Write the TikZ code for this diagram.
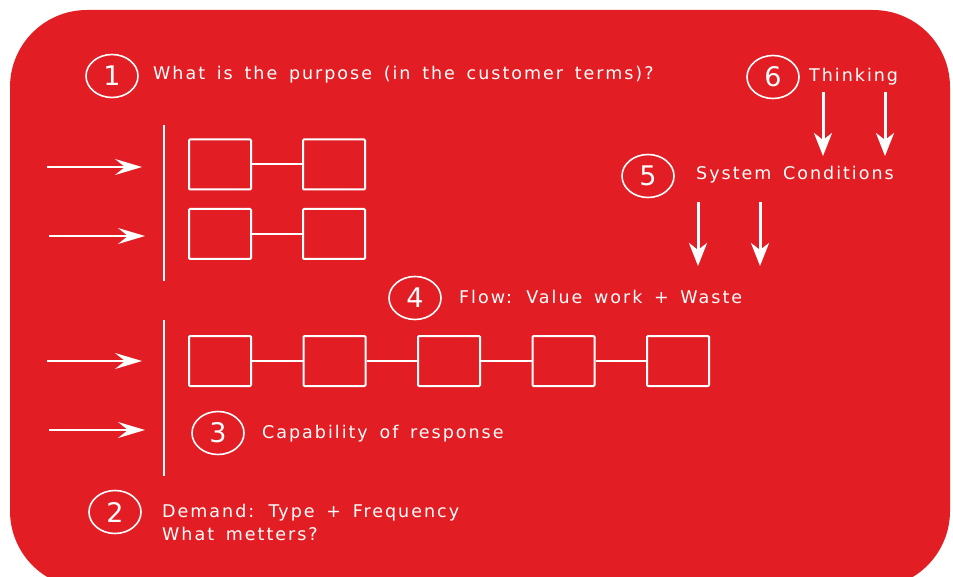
\documentclass[tikz,border=0pt]{standalone}
\usepackage{fontspec}
\setmainfont{DejaVu Sans}
\newfontfamily\lblfont[LetterSpace=11.4,WordSpace=1.55]{DejaVu Sans}
\usetikzlibrary{arrows.meta,shapes.geometric}
\definecolor{bgred}{RGB}{226,30,36}
\begin{document}
\begin{tikzpicture}[x=1pt,y=-1pt,
  proc/.style={draw=white,line width=2pt,minimum width=62pt,minimum height=50pt,inner sep=0pt,rounded corners=1pt},
  num/.style={draw=white,line width=1.6pt,ellipse,minimum width=52pt,minimum height=43pt,inner sep=0pt,text=white,font=\fontsize{27}{27}\selectfont},
  lbl/.style={text=white,anchor=base west,inner sep=0pt,align=left,font=\lblfont\fontsize{17.5}{23}\selectfont},
  link/.style={draw=white,line width=2pt},
  inarrow/.style={white,line width=2.2pt,-{Stealth[length=27pt,width=16pt,inset=10pt]}},
  downarrow/.style={white,line width=3pt,-{Stealth[length=23pt,width=18pt,inset=7pt]}},
  bar/.style={white,line width=2.5pt}]
\useasboundingbox (0,0) rectangle (953,577);
\fill[bgred,rounded corners=77pt] (10,10) rectangle (950,588);

% item 1
\node[num] (n1) at (112,76) {1};
\node[lbl] (t1) at (153,80) {What is the purpose (in the customer terms)?};

% item 6
\node[num] (n6) at (773,77) {6};
\node[lbl] (t6) at (809,82) {Thinking};
\coordinate (a6s) at (823,92);  \coordinate (a6e) at (823,156);
\coordinate (b6s) at (885,92);  \coordinate (b6e) at (885,156);
\draw[downarrow] (a6s) -- (a6e);
\draw[downarrow] (b6s) -- (b6e);

% item 5
\node[num] (n5) at (648,176) {5};
\node[lbl] (t5) at (696,180) {System Conditions};
\coordinate (a5s) at (698,202); \coordinate (a5e) at (698,266);
\coordinate (b5s) at (760,202); \coordinate (b5e) at (760,266);
\draw[downarrow] (a5s) -- (a5e);
\draw[downarrow] (b5s) -- (b5e);

% item 4
\node[num] (n4) at (415,298) {4};
\node[lbl] (t4) at (459,304) {Flow: Value work + Waste};

% upper block
\coordinate (v1t) at (164,125); \coordinate (v1b) at (164,281);
\draw[bar] (v1t) -- (v1b);
\coordinate (i1s) at (47,167);  \coordinate (i1e) at (142,167);
\coordinate (i2s) at (49,236);  \coordinate (i2e) at (145,236);
\draw[inarrow] (i1s) -- (i1e);
\draw[inarrow] (i2s) -- (i2e);
\node[proc] (p11) at (220,164.5) {};
\node[proc] (p12) at (334,164.5) {};
\node[proc] (p21) at (220,234) {};
\node[proc] (p22) at (334,234) {};
\draw[link] (p11) -- (p12);
\draw[link] (p21) -- (p22);

% lower block
\coordinate (v2t) at (164,320); \coordinate (v2b) at (164,476);
\draw[bar] (v2t) -- (v2b);
\coordinate (i3s) at (47,361);  \coordinate (i3e) at (142,361);
\coordinate (i4s) at (49,430);  \coordinate (i4e) at (145,430);
\draw[inarrow] (i3s) -- (i3e);
\draw[inarrow] (i4s) -- (i4e);
\node[proc] (q1) at (220,361) {};
\node[proc] (q2) at (334.5,361) {};
\node[proc] (q3) at (449,361) {};
\node[proc] (q4) at (563.5,361) {};
\node[proc] (q5) at (678,361) {};
\draw[link] (q1) -- (q2);
\draw[link] (q2) -- (q3);
\draw[link] (q3) -- (q4);
\draw[link] (q4) -- (q5);

% item 3
\node[num] (n3) at (218,433) {3};
\node[lbl] (t3) at (262,438) {Capability of response};

% item 2
\node[num] (n2) at (115,512) {2};
\node[lbl] (t2) at (162,540) {Demand: Type + Frequency\\What metters?};
\end{tikzpicture}
\end{document}
